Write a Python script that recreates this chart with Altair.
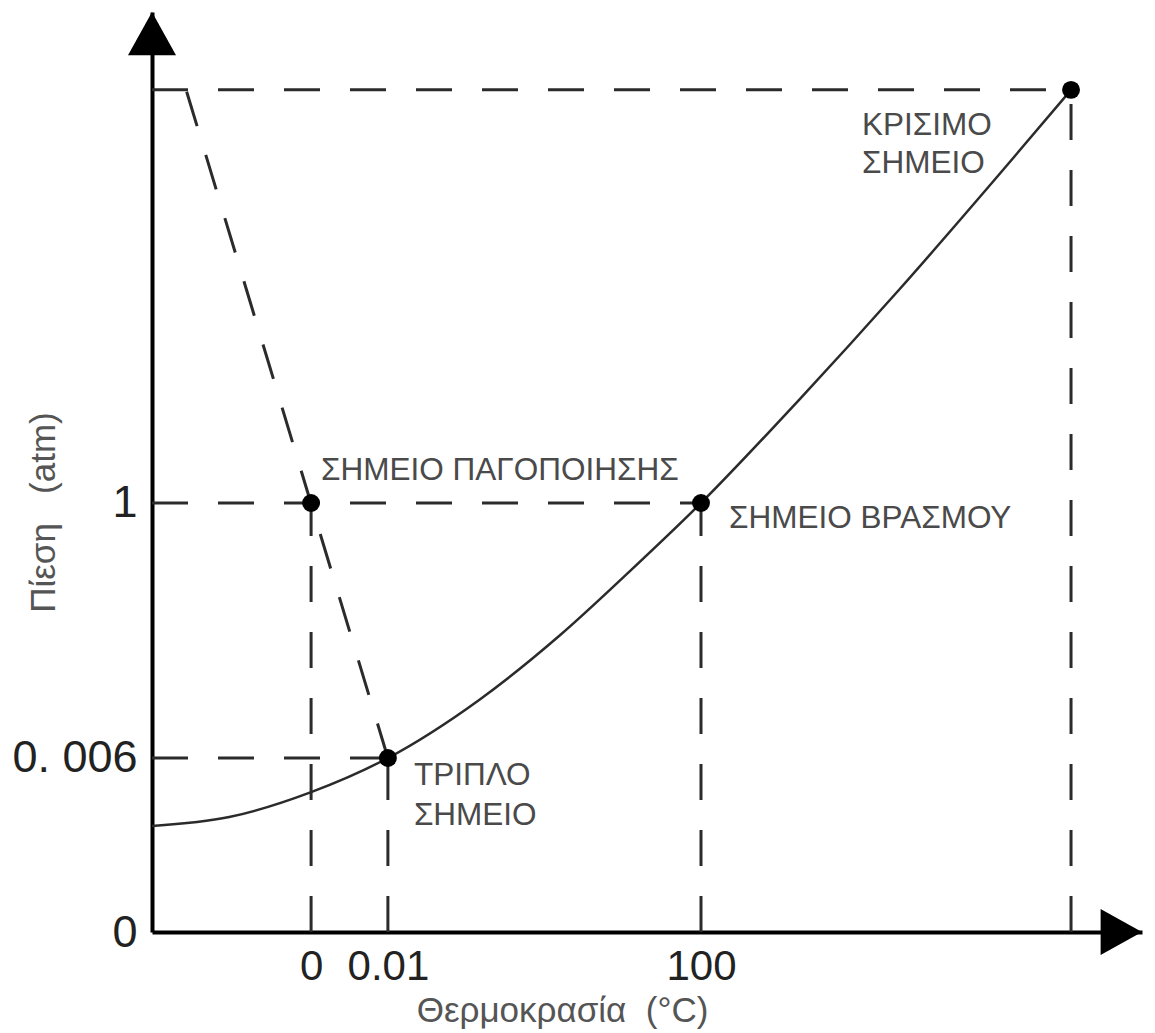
import altair as alt
import pandas as pd

# Schematic phase diagram of water (axes are not drawn to scale).
# Temperature axis: schematic units where 0 °C -> 0 and 100 °C -> 100.
# Pressure axis: schematic units where 0 atm -> 0 and 1 atm -> 1.

point_names = ["ΣΗΜΕΙΟ ΠΑΓΟΠΟΙΗΣΗΣ", "ΤΡΙΠΛΟ\nΣΗΜΕΙΟ", "ΣΗΜΕΙΟ ΒΡΑΣΜΟΥ", "ΚΡΙΣΙΜΟ\nΣΗΜΕΙΟ"]
point_t = [0.0, 19.7, 100.0, 194.9]
point_p = [1.0, 0.4056, 1.0, 1.963]

# vapour-pressure / sublimation curve
curve_t = [-40.8, -21.0, 0.0, 19.7, 43.1, 63.6, 81.5, 100.0, 125.1, 150.8, 176.4, 194.9]
curve_p = [0.247, 0.268, 0.326, 0.4056, 0.541, 0.690, 0.839, 1.0, 1.240, 1.497, 1.765, 1.963]

# upper end of the melting line
melt_end_t = -32.05
melt_end_p = 1.963

x_ticks = [0.0, 19.7, 100.0]
x_tick_labels = ["0", "0.01", "100"]
y_ticks = [0.0, 0.4056, 1.0]
y_tick_labels = ["0", "0. 006", "1"]

x_domain = [-40.8, 213.1]
y_domain = [0.0, 2.1445]

FONT = "Liberation Sans"
TEXT_COLOR = "#4a4a4a"
LINE_COLOR = "#2b2b2b"


def label_expr(values, texts):
    expr = "''"
    for v, t in zip(values, texts):
        expr = f"abs(datum.value - {v}) < 1e-6 ? '{t}' : ({expr})"
    return expr


xs = alt.Scale(domain=x_domain, nice=False, zero=False)
ys = alt.Scale(domain=y_domain, nice=False, zero=False)

x_axis = alt.Axis(
    values=x_ticks, labelExpr=label_expr(x_ticks, x_tick_labels),
    ticks=False, grid=False, domainColor="black", domainWidth=4,
    labelFont=FONT, labelFontSize=42, labelColor="#222", labelPadding=14,
    title="Θερμοκρασία\u00a0\u00a0(°C)", titleFont=FONT, titleFontSize=35,
    titleFontWeight="normal", titleColor="#555",
    titleX=410, titleY=78, titleAlign="center", titleBaseline="middle",
)
y_axis = alt.Axis(
    values=y_ticks, labelExpr=label_expr(y_ticks, y_tick_labels),
    ticks=False, grid=False, domainColor="black", domainWidth=4,
    labelFont=FONT, labelFontSize=45, labelColor="#222", labelPadding=15,
    title="Πίεση\u00a0\u00a0\u00a0(atm)", titleFont=FONT, titleFontSize=35,
    titleFontWeight="normal", titleColor="#555",
    titleX=-109, titleY=500, titleAlign="center", titleBaseline="middle",
    titleAngle=270,
)

X = lambda f: alt.X(f, type="quantitative", scale=xs, axis=x_axis)
Y = lambda f: alt.Y(f, type="quantitative", scale=ys, axis=y_axis)

points = pd.DataFrame({"name": point_names, "t": point_t, "p": point_p})
curve = pd.DataFrame({"t": curve_t, "p": curve_p})

# dashed guide lines: verticals down to the T axis, horizontals to the P axis
segs = []
for name, t, p in zip(point_names, point_t, point_p):
    segs.append({"t": t, "p": 0.0, "t2": t, "p2": p})
    if name != point_names[0]:
        segs.append({"t": x_domain[0], "p": p, "t2": t, "p2": p})
segs.append({"t": point_t[1], "p": point_p[1], "t2": melt_end_t, "p2": melt_end_p})
guides = pd.DataFrame(segs)

guide_layer = alt.Chart(guides).mark_rule(
    color=LINE_COLOR, strokeWidth=3, strokeDash=[36, 30]
).encode(x=X("t"), y=Y("p"), x2="t2", y2="p2")

curve_layer = alt.Chart(curve).mark_line(
    color=LINE_COLOR, strokeWidth=2.5, interpolate="monotone"
).encode(x=X("t"), y=Y("p"))

dot_layer = alt.Chart(points).mark_circle(
    color="black", opacity=1, size=320
).encode(x=X("t"), y=Y("p"))

# arrow heads at the ends of both axes
arrows_y = pd.DataFrame({"t": [x_domain[0]], "p": [y_domain[1]]})
arrows_x = pd.DataFrame({"t": [x_domain[1]], "p": [y_domain[0]]})
arrow_up = alt.Chart(arrows_y).mark_point(
    shape="M0,0L-1,1.8L1,1.8Z", size=2304, filled=True, color="black", opacity=1
).encode(x=X("t"), y=Y("p"))
arrow_right = alt.Chart(arrows_x).mark_point(
    shape="M0,0L-1.8,-1L-1.8,1Z", size=2116, filled=True, color="black", opacity=1
).encode(x=X("t"), y=Y("p"))


def annotation(i, dx, dy, line_height=40):
    return alt.Chart(points.iloc[[i]]).mark_text(
        align="left", baseline="alphabetic", dx=dx, dy=dy,
        font=FONT, fontSize=31.5, color=TEXT_COLOR,
        lineBreak="\n", lineHeight=line_height,
    ).encode(x=X("t"), y=Y("p"), text="name:N")


labels = [
    annotation(0, 10, -23),
    annotation(1, 26, 27, 40),
    annotation(2, 28, 25),
    annotation(3, -209, 45, 38),
]

chart = alt.layer(
    guide_layer, curve_layer, dot_layer, arrow_up, arrow_right, *labels
).properties(
    width=990, height=920,
    padding={"left": 152, "top": 12, "right": 13, "bottom": 101},
    autosize=alt.AutoSizeParams(type="none"),
    background="white",
).configure_view(stroke="transparent")

chart.save("out.html", embed_options={"renderer": "svg", "actions": False})
